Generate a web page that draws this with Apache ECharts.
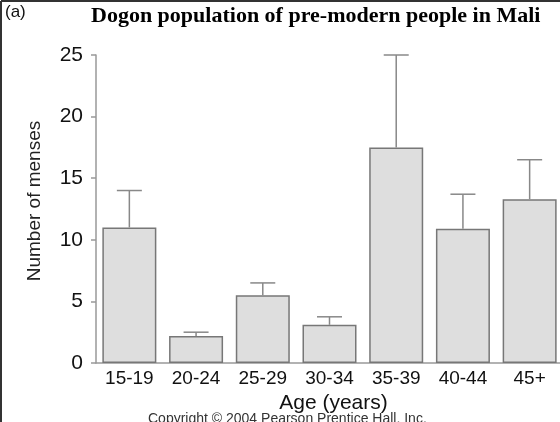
<!DOCTYPE html>
<html><head><meta charset="utf-8">
<script src="https://cdn.jsdelivr.net/npm/echarts@6/dist/echarts.min.js"></script>
<style>html,body{margin:0;padding:0;background:#fff}#c{width:560px;height:422px}</style>
</head><body><div id="c"></div>
<script>
var categories = ['15-19','20-24','25-29','30-34','35-39','40-44','45+'];
var means = [11.0, 2.2, 5.5, 3.1, 17.5, 10.9, 13.3];
var errTops = [14.0, 2.5, 6.5, 3.75, 25.0, 13.7, 16.5];
var yTicks = [0, 5, 10, 15, 20, 25];

var chart = echarts.init(document.getElementById('c'));
var sans = 'Liberation Sans, Arial, sans-serif';
chart.setOption({
  animation: false,
  backgroundColor: '#fff',
  grid: {left: 96, top: 55, width: 467, height: 308, containLabel: false, outerBoundsMode: 'none'},
  title: [
    {text: '(a)', left: 0, top: -1, textStyle: {fontFamily: sans, fontSize: 17, fontWeight: 'normal', color: '#111'}},
    {text: 'Dogon population of pre-modern people in Mali', left: 86, top: 0,
     textStyle: {fontFamily: 'Liberation Serif, Times New Roman, serif', fontSize: 22, fontWeight: 'bold', color: '#000'}}
  ],
  xAxis: {
    type: 'category', data: categories,
    name: 'Age (years)', nameLocation: 'middle', nameGap: 29,
    nameTextStyle: {fontFamily: sans, fontSize: 21, color: '#111', padding: [0, 0, 0, 8]},
    axisLine: {lineStyle: {color: '#999', width: 1.5}},
    axisTick: {show: false},
    axisLabel: {fontFamily: sans, fontSize: 19, color: '#111', margin: 6, interval: 0}
  },
  yAxis: {
    type: 'value', min: 0, max: 25, interval: 5,
    axisLine: {show: true, lineStyle: {color: '#999', width: 1.5}},
    axisTick: {show: true, length: 5, lineStyle: {color: '#999', width: 1.5}},
    axisLabel: {fontFamily: sans, fontSize: 21, color: '#111', margin: 13,
      formatter: function (v) { return yTicks.indexOf(v) >= 0 ? String(v) : ''; }},
    splitLine: {show: false}
  },
  series: [
    {
      type: 'bar', data: means, barWidth: 54,
      itemStyle: {color: '#dedede', borderColor: '#777', borderWidth: 1.5}
    },
    {
      type: 'custom', data: errTops.map(function (e, i) { return [i, means[i], e]; }),
      z: 3,
      renderItem: function (params, api) {
        var lo = api.coord([api.value(0), api.value(1)]);
        var hi = api.coord([api.value(0), api.value(2)]);
        var hw = 12.5;
        var st = {stroke: '#888', lineWidth: 1.5, fill: null};
        return {type: 'group', children: [
          {type: 'line', shape: {x1: lo[0], y1: lo[1], x2: hi[0], y2: hi[1]}, style: st},
          {type: 'line', shape: {x1: hi[0] - hw, y1: hi[1], x2: hi[0] + hw, y2: hi[1]}, style: st}
        ]};
      }
    }
  ],
  graphic: [
    {type: 'line', shape: {x1: 1, y1: 1, x2: 560, y2: 1}, style: {stroke: '#333', lineWidth: 2}},
    {type: 'line', shape: {x1: 1, y1: 1, x2: 1, y2: 422}, style: {stroke: '#333', lineWidth: 2}},
    {type: 'text', x: 35, y: 201, rotation: Math.PI / 2,
     style: {text: 'Number of menses', font: '19px Liberation Sans, Arial, sans-serif', fill: '#222', align: 'center', verticalAlign: 'middle'}},
    {type: 'text', left: 148, top: 412, style: {text: 'Copyright \u00A9 2004 Pearson Prentice Hall, Inc.', font: '14px Liberation Sans, Arial, sans-serif', fill: '#333'}}
  ]
});
</script></body></html>
